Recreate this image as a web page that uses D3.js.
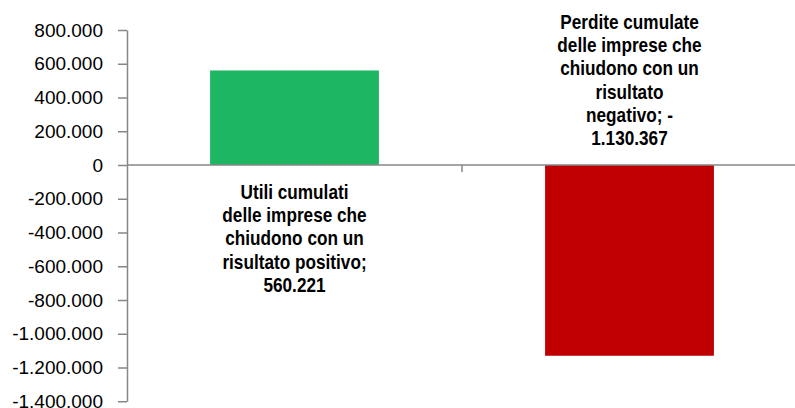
<!DOCTYPE html>
<html>
<head>
<meta charset="utf-8">
<script src="https://d3js.org/d3.v7.min.js"></script>
<style>
    body { margin: 0; background: #fff; }
    svg { display: block; }
</style>
</head>
<body>
<script>
    var width = 795;
    var height = 408;

    // data
    var categories = ["positivo", "negativo"];
    var values = [560221, -1130367];
    var barColors = ["#1db763", "#c00000"];
    var labelLines = [
        ["Utili cumulati", "delle imprese che", "chiudono con un", "risultato positivo;", "560.221"],
        ["Perdite cumulate", "delle imprese che", "chiudono con un", "risultato", "negativo; -", "1.130.367"]
    ];
    var yTicks = [800000, 600000, 400000, 200000, 0, -200000, -400000, -600000, -800000, -1000000, -1200000, -1400000];

    var axisColor = "#878787";
    var plotLeft = 127, plotRight = 797, plotTop = 30, plotBottom = 401.25;

    var it = d3.formatLocale({decimal: ",", thousands: ".", grouping: [3], currency: ["€", ""], minus: "-"});
    var fmt = it.format(",d");

    var svg = d3.select("body").append("svg")
        .attr("width", width)
        .attr("height", height);

    var y = d3.scaleLinear()
        .domain([-1400000, 800000])
        .range([plotBottom, plotTop]);

    var x = d3.scaleBand()
        .domain(categories)
        .range([plotLeft, plotRight])
        .paddingInner(0.496)
        .paddingOuter(0.248);

    var band = d3.scaleBand().domain(categories).range([plotLeft, plotRight]);

    // bars
    svg.selectAll("rect.bar")
        .data(values)
        .enter().append("rect")
        .attr("class", "bar")
        .attr("x", function(d, i) { return x(categories[i]); })
        .attr("width", x.bandwidth())
        .attr("y", function(d) { return y(Math.max(0, d)); })
        .attr("height", function(d) { return Math.abs(y(d) - y(0)); })
        .attr("fill", function(d, i) { return barColors[i]; });

    // y axis
    var yAxis = svg.append("g")
        .attr("transform", "translate(" + plotLeft + ",0)")
        .call(d3.axisLeft(y).tickValues(yTicks).tickFormat(fmt).tickSize(9).tickPadding(15).tickSizeOuter(0));
    yAxis.select(".domain").attr("stroke", axisColor).attr("stroke-width", 1.5);
    yAxis.selectAll(".tick line").attr("stroke", axisColor).attr("stroke-width", 1.5);
    yAxis.selectAll(".tick text")
        .attr("fill", "#000")
        .style("font-family", "'Liberation Sans', Arial, sans-serif")
        .style("font-size", "19px");

    // category axis at zero
    svg.append("line")
        .attr("x1", plotLeft).attr("x2", plotRight)
        .attr("y1", y(0)).attr("y2", y(0))
        .attr("stroke", axisColor).attr("stroke-width", 1.5);
    svg.selectAll("line.ctick")
        .data(categories.slice(1))
        .enter().append("line")
        .attr("class", "ctick")
        .attr("x1", function(d) { return band(d); })
        .attr("x2", function(d) { return band(d); })
        .attr("y1", y(0))
        .attr("y2", y(0) + 7)
        .attr("stroke", axisColor).attr("stroke-width", 1.5);

    // data labels (narrow bold look: squeeze horizontally)
    var lineH = 23.2;
    labelLines.forEach(function(lines, i) {
        var cx = band(categories[i]) + band.bandwidth() / 2;
        var y0 = values[i] >= 0 ? y(0) + 34 : y(0) - 20 - (lines.length - 1) * lineH;
        var t = svg.append("text")
            .attr("transform", "translate(" + cx + ",0) scale(0.86,1)")
            .attr("text-anchor", "middle")
            .attr("fill", "#000")
            .style("font-family", "'Liberation Sans', Arial, sans-serif")
            .style("font-weight", "bold")
            .style("font-size", "20px");
        t.selectAll("tspan")
            .data(lines)
            .enter().append("tspan")
            .attr("x", 0)
            .attr("y", function(d, j) { return y0 + j * lineH; })
            .text(function(d) { return d; });
    });
</script>
</body>
</html>
